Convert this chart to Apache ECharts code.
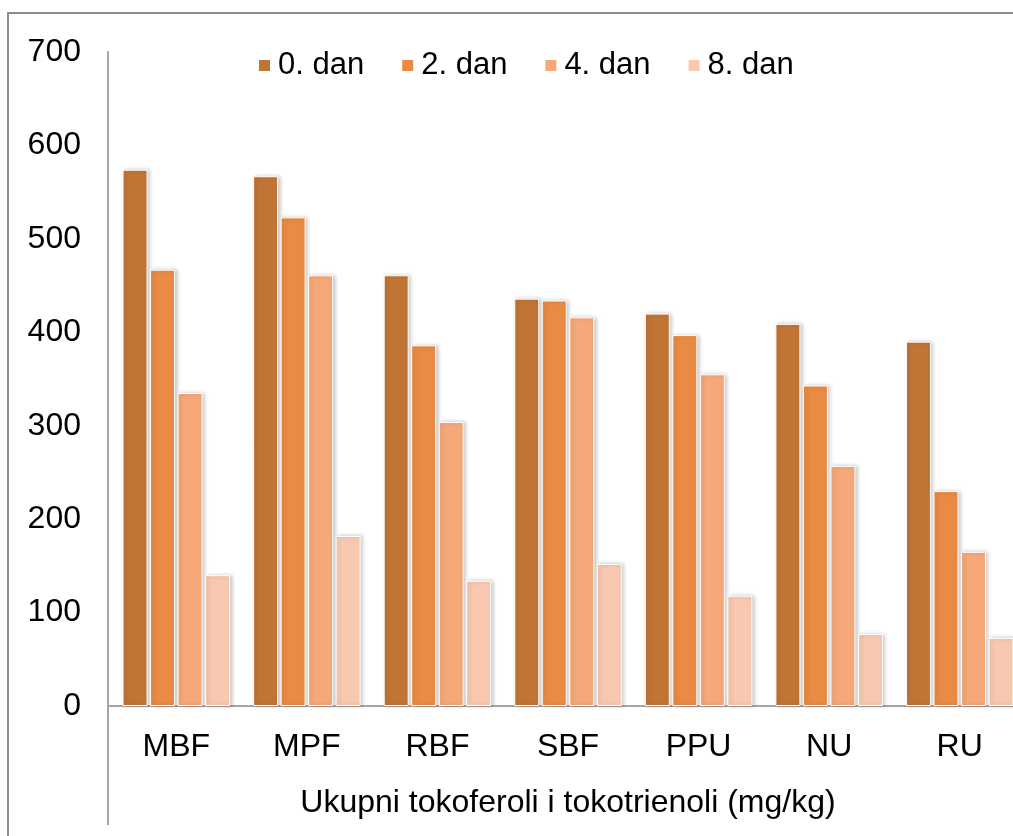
<!DOCTYPE html>
<html>
<head>
<meta charset="utf-8">
<script src="https://cdn.jsdelivr.net/npm/echarts@6/dist/echarts.min.js"></script>
<style>
html,body{margin:0;padding:0;overflow:hidden;background:#fff;width:1013px;height:836px;}
#frame{position:absolute;left:7px;top:12px;width:1100px;height:900px;border:2px solid #8c8c8c;box-sizing:border-box;}
#chart{position:absolute;left:0;top:0;width:1040px;height:836px;}
</style>
</head>
<body>
<div id="frame"></div>
<div id="chart"></div>
<script>
const categories = ['MBF','MPF','RBF','SBF','PPU','NU','RU'];
const seriesNames = ['0. dan','2. dan','4. dan','8. dan'];
const day0 = [574, 567, 461, 436, 420, 409, 390];
const day2 = [467, 523, 386, 434, 397, 343, 230];
const day4 = [335, 461, 304, 416, 355, 257, 165];
const day8 = [140, 182, 134, 152, 118, 77, 73];
const colors = ['#C17535', '#E98B43', '#F6A878', '#F8C9B0'];
const yTicks = [0, 100, 200, 300, 400, 500, 600, 700];
const axisTitle = 'Ukupni tokoferoli i tokotrienoli (mg/kg)';

const FONT = 'Liberation Sans, Arial, sans-serif';
const chart = echarts.init(document.getElementById('chart'), null, {renderer:'canvas'});
const dataSets = [day0, day2, day4, day8];

const option = {
  animation: false,
  legend: {
    left: 252, top: 45,
    itemWidth: 13, itemHeight: 13, itemGap: 36,
    icon: 'rect',
    textStyle: {fontFamily: FONT, fontSize: 31, color: '#000', padding:[0,0,0,2]},
    data: seriesNames
  },
  grid: {left: 111, top: 52, width: 914, height: 654, containLabel: false},
  xAxis: {
    type: 'category',
    data: categories,
    axisLine: {show: true, lineStyle: {color: '#a6a6a6', width: 2}},
    axisTick: {show: false},
    axisLabel: {fontFamily: FONT, fontSize: 32, color: '#000', margin: 25},
    name: axisTitle,
    nameLocation: 'middle',
    nameGap: 81,
    nameTextStyle: {fontFamily: FONT, fontSize: 32, color: '#000'}
  },
  yAxis: {
    type: 'value',
    min: 0, max: 700, interval: 100,
    offset: 3,
    axisLine: {show: true, lineStyle: {color: '#a6a6a6', width: 2}},
    axisTick: {show: false},
    splitLine: {show: false},
    axisLabel: {fontFamily: FONT, fontSize: 32, color: '#000', margin: 27,
      formatter: v => yTicks.includes(v) ? String(v) : ''}
  },
  graphic: [{
    type: 'line', shape: {x1: 108, y1: 706, x2: 108, y2: 825},
    style: {stroke: '#a6a6a6', lineWidth: 2}
  }, {
    type: 'line', shape: {x1: 108, y1: 706, x2: 112, y2: 706},
    style: {stroke: '#a6a6a6', lineWidth: 2}
  }],
  series: dataSets.map((d, i) => ({
    name: seriesNames[i],
    type: 'bar',
    data: d,
    barWidth: 25,
    barGap: '10%',
    itemStyle: {
      color: colors[i],
      borderColor: '#ffffff',
      borderWidth: 1,
      shadowColor: 'rgba(0,0,0,0.22)',
      shadowBlur: 4,
      shadowOffsetX: 2,
      shadowOffsetY: 0
    }
  }))
};
chart.setOption(option);
</script>
</body>
</html>
